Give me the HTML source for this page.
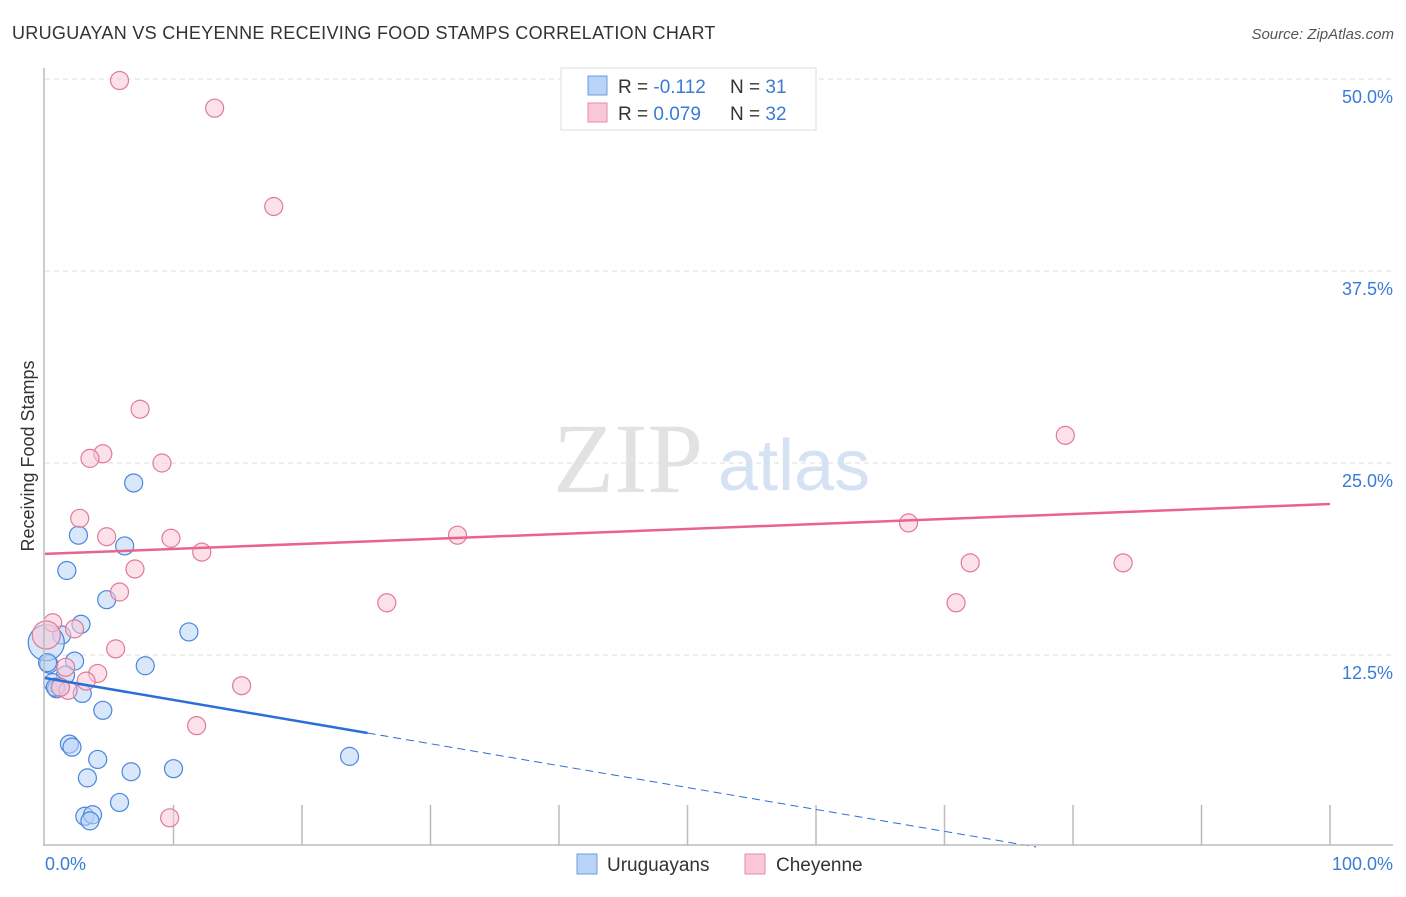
<!DOCTYPE html>
<html><head><meta charset="utf-8"><style>
body{margin:0;background:#fff;font-family:"Liberation Sans",sans-serif}
</style></head><body>
<svg width="1406" height="892" xmlns="http://www.w3.org/2000/svg" id="c" font-family="Liberation Sans, sans-serif">
<text x="12" y="39" font-size="18" fill="#333" letter-spacing="0.3">URUGUAYAN VS CHEYENNE RECEIVING FOOD STAMPS CORRELATION CHART</text>
<text x="1394" y="39" font-size="15" fill="#555" font-style="italic" text-anchor="end">Source: ZipAtlas.com</text>
<text x="553" y="492" font-size="100" fill="#e2e2e2" font-family="Liberation Serif, serif">ZIP</text>
<text x="718" y="490" font-size="72" fill="#d4e2f4">atlas</text>
<text transform="translate(34,456) rotate(-90)" font-size="18" fill="#333" text-anchor="middle">Receiving Food Stamps</text>
<g id="grid"></g><g id="pts"></g><g id="lines"></g>
<line x1="44" y1="68" x2="44" y2="846" stroke="#bbb" stroke-width="1.5"/>
<line x1="44" y1="845" x2="1393" y2="845" stroke="#bbb" stroke-width="1.5"/>
<text x="45" y="870" font-size="18" fill="#3a7bd5">0.0%</text>
<text x="1393" y="870" font-size="18" fill="#3a7bd5" text-anchor="end">100.0%</text>
<g>
<rect x="561" y="68" width="255" height="62" fill="#fff" stroke="#ddd"/>
<rect x="588" y="76" width="19" height="19" fill="#b8d3f5" stroke="#6a9be0"/>
<rect x="588" y="103" width="19" height="19" fill="#f9c8d7" stroke="#e88aa8"/>
<text x="618" y="93" font-size="19" fill="#333">R = <tspan fill="#3a7bd5">-0.112</tspan><tspan x="730">N = </tspan><tspan fill="#3a7bd5">31</tspan></text>
<text x="618" y="120" font-size="19" fill="#333">R = <tspan fill="#3a7bd5">0.079</tspan><tspan x="730">N = </tspan><tspan fill="#3a7bd5">32</tspan></text>
</g>
<g>
<rect x="577" y="854" width="20" height="20" fill="#b8d3f5" stroke="#6a9be0"/>
<text x="607" y="871" font-size="19" fill="#333">Uruguayans</text>
<rect x="745" y="854" width="20" height="20" fill="#f9c8d7" stroke="#e88aa8"/>
<text x="776" y="871" font-size="19" fill="#333">Cheyenne</text>
</g>
</svg>
<script>
const yTicks=[12.5,25,37.5,50];
const yTickLabels=["12.5%","25.0%","37.5%","50.0%"];
const xTicks=[10,20,30,40,50,60,70,80,90,100];
const uruX=[6.9,2.6,6.2,1.7,4.8,2.8,1.3,11.2,2.3,7.8,0.3,1.6,0.6,0.9,1.2,2.9,4.5,1.9,2.1,4.1,6.7,10.0,3.3,5.8,3.1,3.7,3.5,23.7,0.1,0.2,0.8];
const uruY=[23.7,20.3,19.6,18.0,16.1,14.5,13.8,14.0,12.1,11.8,11.9,11.2,10.7,10.3,10.4,10.0,8.9,6.7,6.5,5.7,4.9,5.1,4.5,2.9,2.0,2.1,1.7,5.9,13.3,12.0,10.4];
const cheX=[5.8,13.2,17.8,7.4,4.5,3.5,9.1,2.7,4.8,9.8,12.2,7.0,5.8,0.6,2.3,5.5,1.6,4.1,3.2,1.8,15.3,11.8,9.7,26.6,32.1,67.2,72.0,70.9,79.4,83.9,0.1,1.2];
const cheY=[49.9,48.1,41.7,28.5,25.6,25.3,25.0,21.4,20.2,20.1,19.2,18.1,16.6,14.6,14.2,12.9,11.7,11.3,10.8,10.2,10.5,7.9,1.9,15.9,20.3,21.1,18.5,15.9,26.8,18.5,13.8,10.4];
const pinkTrend=[19.08,22.33];
const blueTrend=[11.0,-3.26];
const blueSolidEnd=25.1;
const X=v=>45+v*12.85, Y=v=>847-v*15.36;
const NS="http://www.w3.org/2000/svg";
function mk(t,a,p){const e=document.createElementNS(NS,t);for(const k in a)e.setAttribute(k,a[k]);document.getElementById(p).appendChild(e);return e;}
yTicks.forEach((t,i)=>{
 const g=mk('line',{x1:45,x2:1393,y1:Y(t),y2:Y(t),stroke:'#ddd','stroke-dasharray':'5,4'},'grid');
 
 
 const l=mk('text',{x:1393,y:Y(t)+24,'font-size':18,fill:'#3a7bd5','text-anchor':'end'},'grid');
 l.textContent=yTickLabels[i];
 
 
});
xTicks.forEach(t=>{
 const e=mk('line',{x1:X(t),x2:X(t),y1:805,y2:845,stroke:'#bbb','stroke-width':1.5},'grid');
 
 
});
function dot(x,y,fill,stroke,r){return mk('circle',{cx:X(x),cy:Y(y),r:r,fill:fill,'fill-opacity':0.55,stroke:stroke,'stroke-width':1.2},'pts');}
uruX.forEach((x,i)=>{
 const e=dot(x,uruY[i],'#b8d3f5','#4a86dc',i==28?18:9);
 
 
});
cheX.forEach((x,i)=>{
 const e=dot(x,cheY[i],'#f9c8d7','#e07a9c',i==30?14:9);
 
 
});
const pl=mk('line',{x1:X(0),y1:Y(pinkTrend[0]),x2:X(100),y2:Y(pinkTrend[1]),stroke:'#e8648e','stroke-width':2.5},'lines');


const bf=x=>blueTrend[0]+(blueTrend[1]-blueTrend[0])*x/100;
const bl=mk('line',{x1:X(0),y1:Y(bf(0)),x2:X(blueSolidEnd),y2:Y(bf(blueSolidEnd)),stroke:'#2a6fd6','stroke-width':2.5},'lines');


const zx=-blueTrend[0]/(blueTrend[1]-blueTrend[0])*100;
const bd=mk('line',{x1:X(blueSolidEnd),y1:Y(bf(blueSolidEnd)),x2:X(zx),y2:Y(0),stroke:'#2a6fd6','stroke-width':1,'stroke-dasharray':'8,5'},'lines');


</script>
</body></html>
